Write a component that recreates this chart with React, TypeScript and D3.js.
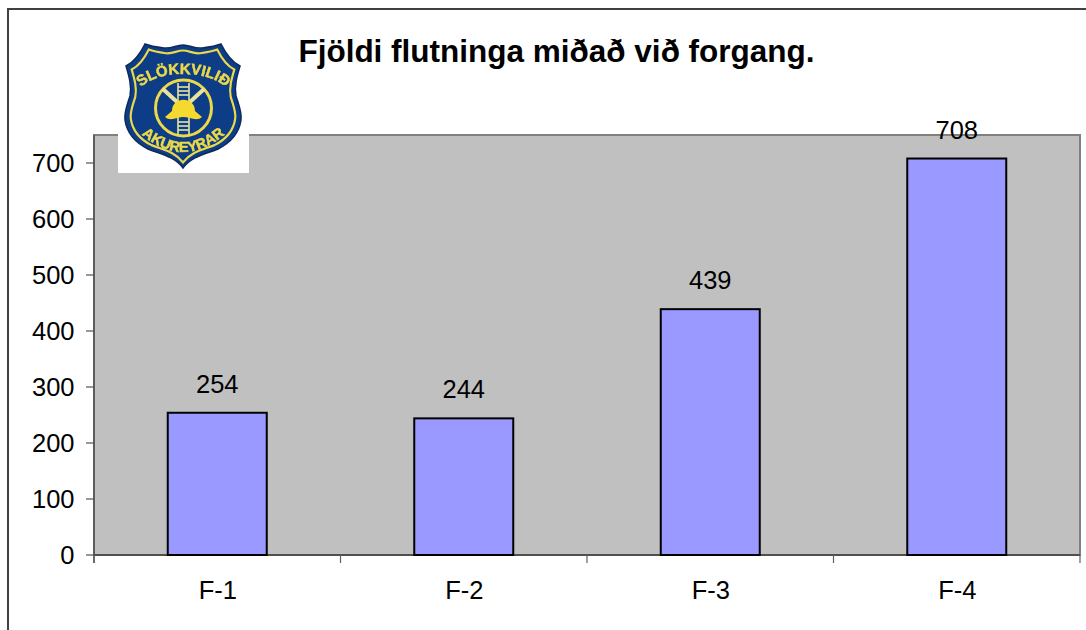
import React from "react";
import * as d3 from "d3";

const categories = ["F-1", "F-2", "F-3", "F-4"];
const values = [254, 244, 439, 708];
const yTicks = [0, 100, 200, 300, 400, 500, 600, 700];
const title = "Fjöldi flutninga miðað við forgang.";
const logoTop = "SLÖKKVILIÐ";
const logoBottom = "AKUREYRAR";

const FONT = "'Liberation Sans', Arial, sans-serif";
const L = 94, R = 1080, T = 135, B = 555;
const NAVY = "#0c3c86";
const GOLD = "#ecd94a";

function Logo() {
  const shield =
    "M183 45 C176 45 172 49 164 48 C156 47 150 46 145 44 C141 52 134 62 126 66 C129 76 132 86 130 96 C127 106 124 112 125 120 C127 134 136 143 148 149 C160 154 174 156 183 168 C192 156 206 154 218 149 C230 143 239 134 241 120 C242 112 239 106 236 96 C234 86 237 76 240 66 C232 62 225 52 221 44 C216 46 210 47 202 48 C194 49 190 45 183 45 Z";
  return (
    <g>
      <rect x={118} y={42} width={131} height={131} fill="#ffffff" />
      <g filter="url(#logoSoft)">
        <path d={shield} fill={NAVY} stroke="#0a2a5e" strokeWidth={1.5} />
        <path d={shield} fill="none" stroke={GOLD} strokeWidth={2.4} transform="translate(183 106) scale(0.9 0.91) translate(-183 -106)" />
        <defs>
          <path id="logoArcTop" d="M136 92 C148 78 165 74 183 74 C201 74 218 78 231 92" />
          <path id="logoArcBottom" d="M137 130 C152 145 168 152 183 152 C198 152 214 145 230 130" />
        </defs>
        <text fontFamily={FONT} fontSize={15} fontWeight={700} fill={GOLD} stroke={GOLD} strokeWidth={0.5} textAnchor="middle">
          <textPath href="#logoArcTop" startOffset="50%">{logoTop}</textPath>
        </text>
        <text fontFamily={FONT} fontSize={14.5} fontWeight={700} fill={GOLD} stroke={GOLD} strokeWidth={0.5} textAnchor="middle">
          <textPath href="#logoArcBottom" startOffset="50%">{logoBottom}</textPath>
        </text>
        <circle cx={183.5} cy={108} r={28} fill={NAVY} stroke={GOLD} strokeWidth={3} />
        <g stroke="#e8e4a0" strokeWidth={1.6}>
          <line x1={178} y1={83} x2={178} y2={134} />
          <line x1={189} y1={83} x2={189} y2={134} />
          {[87, 91, 95, 122, 126, 130].map((ry) => (
            <line key={ry} x1={178} y1={ry} x2={189} y2={ry} />
          ))}
        </g>
        <g stroke="#e8e4a0" strokeWidth={4} strokeLinecap="round">
          <line x1={164} y1={90} x2={176} y2={101} />
          <line x1={203} y1={90} x2={191} y2={101} />
        </g>
        <path d="M172 111 C172 96 195 96 195 111 L202 117 C197 122 189 117 183.5 117 C178 117 170 122 165 117 Z" fill="#f5d92e" />
      </g>
      <defs>
        <filter id="logoSoft" x="-5%" y="-5%" width="110%" height="110%">
          <feGaussianBlur stdDeviation={0.35} />
        </filter>
      </defs>
    </g>
  );
}

export default function App() {
  const x = d3.scaleBand<string>().domain(categories).range([L, R]);
  const y = d3.scaleLinear().domain([0, 750]).range([B, T]);
  const barW = 99;
  const fs = 25.5;
  return (
    <svg width={1086} height={630} style={{ position: "absolute", left: 0, top: 0, background: "#fff" }}>
      <path d="M8 630 V9 H1086" fill="none" stroke="#404040" strokeWidth={2} />
      <rect x={L} y={T} width={R - L} height={B - T} fill="#c0c0c0" stroke="#808080" strokeWidth={2} />
      <line x1={L} x2={L} y1={T} y2={B + 8} stroke="#505050" strokeWidth={1.5} />
      {yTicks.map((t) => (
        <g key={t}>
          <line x1={L - 8} x2={L} y1={y(t)} y2={y(t)} stroke="#505050" strokeWidth={1.2} />
          <text x={74.5} y={y(t) + 8.5} textAnchor="end" fontFamily={FONT} fontSize={fs} fill="#000">{t}</text>
        </g>
      ))}
      <line x1={L} x2={R} y1={B} y2={B} stroke="#404040" strokeWidth={1.5} />
      {d3.range(categories.length + 1).map((i) => {
        const px = L + i * x.bandwidth();
        return <line key={i} x1={px} x2={px} y1={B} y2={B + 8} stroke="#606060" strokeWidth={1.2} />;
      })}
      {categories.map((c, i) => {
        const cx = x(c)! + x.bandwidth() / 2;
        return (
          <g key={c}>
            <rect x={cx - barW / 2} y={y(values[i])} width={barW} height={B - y(values[i])} fill="#9999ff" stroke="#000" strokeWidth={2} />
            <text x={cx} y={y(values[i]) - 20} textAnchor="middle" fontFamily={FONT} fontSize={fs} fill="#000">{values[i]}</text>
            <text x={cx + 0.5} y={599} textAnchor="middle" fontFamily={FONT} fontSize={fs} fill="#000">{c}</text>
          </g>
        );
      })}
      <Logo />
      <text x={556.5} y={62} textAnchor="middle" fontFamily={FONT} fontSize={31.5} fontWeight={700} fill="#000">{title}</text>
    </svg>
  );
}
